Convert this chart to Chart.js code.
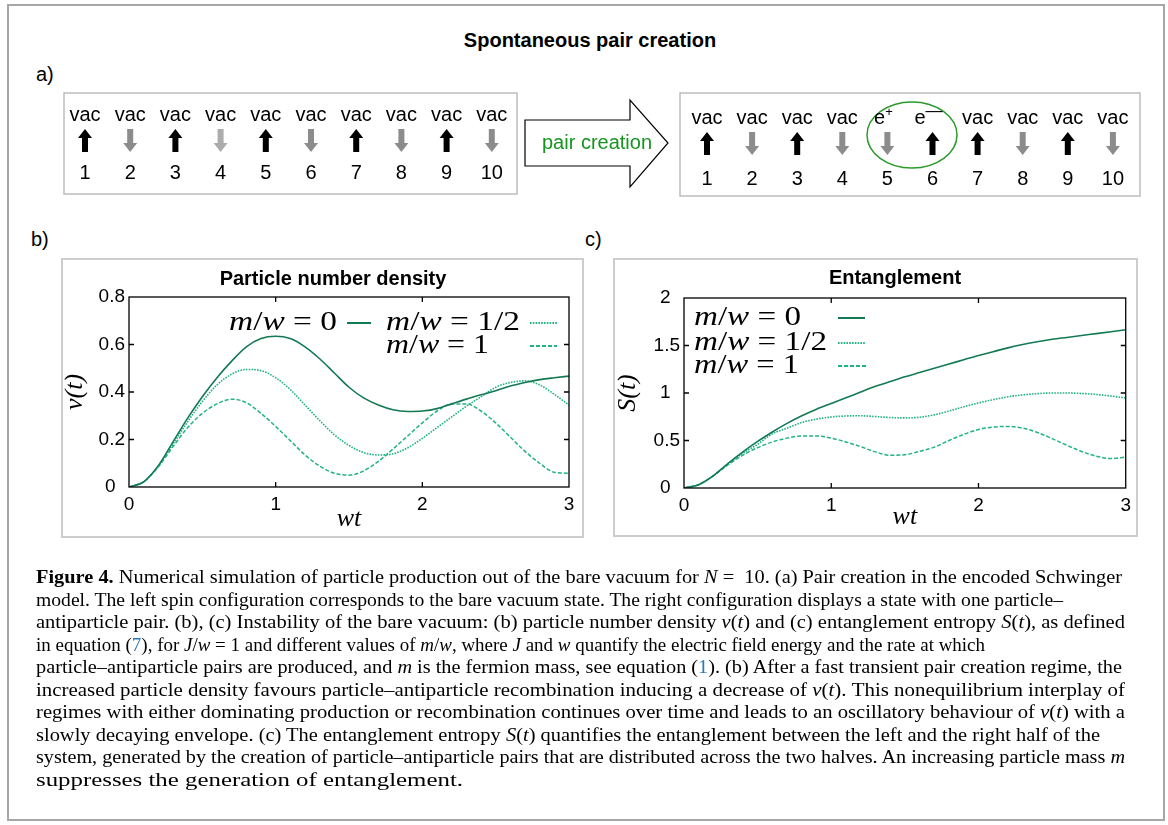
<!DOCTYPE html>
<html><head><meta charset="utf-8">
<script src="https://cdn.jsdelivr.net/npm/chart.js@4"></script>
<style>
html,body{margin:0;padding:0;background:#fff;}
body{width:1168px;height:825px;position:relative;overflow:hidden;font-family:'Liberation Sans',Arial,sans-serif;color:#000;}
.abs{position:absolute;white-space:nowrap;}
#frame{position:absolute;left:7px;top:4px;width:1158px;height:817px;box-sizing:border-box;border:2px solid #a6a6a6;}
.panel{position:absolute;box-sizing:border-box;border:2px solid #cdcdcd;}
.lbl{font-size:20px;line-height:20px;}
.ttl{font-weight:bold;font-size:20px;line-height:20px;transform:translateX(-50%);}
.lg{font-family:'Liberation Serif',serif;font-size:27px;line-height:27px;transform-origin:left center;}
.lg .eq{margin:0 0.25em;}
.cap{font-family:'Liberation Serif',serif;font-size:19px;line-height:19px;transform-origin:left center;}
.cap .bl{color:#2b79b5;}
canvas{position:absolute;}
svg{position:absolute;left:0;top:0;}
</style>
</head><body>
<div id="frame"></div>

<div class="abs ttl" style="left:590px;top:30px;">Spontaneous pair creation</div>
<div class="abs lbl" style="left:36px;top:64px;">a)</div>
<div class="abs lbl" style="left:31px;top:229px;">b)</div>
<div class="abs lbl" style="left:585px;top:229px;">c)</div>

<div class="panel" style="left:61px;top:258px;width:523px;height:280px;"></div>
<div class="panel" style="left:613px;top:258px;width:525px;height:279px;"></div>

<canvas id="chartB" width="521" height="278" style="left:62px;top:259px;width:521px;height:278px;"></canvas>
<canvas id="chartC" width="523" height="277" style="left:614px;top:259px;width:523px;height:277px;"></canvas>

<div class="abs ttl" style="left:333px;top:268px;">Particle number density</div>
<div class="abs ttl" style="left:895px;top:267px;">Entanglement</div>

<!-- legends -->
<div class="abs lg" data-w="108" style="left:229px;top:308px;"><i>m</i>/<i>w</i><span class="eq">=</span>0</div>
<div class="abs lg" data-w="134" style="left:386px;top:308px;"><i>m</i>/<i>w</i><span class="eq">=</span>1/2</div>
<div class="abs lg" data-w="103" style="left:386px;top:331px;"><i>m</i>/<i>w</i><span class="eq">=</span>1</div>
<div class="abs lg" data-w="107" style="left:694px;top:303px;"><i>m</i>/<i>w</i><span class="eq">=</span>0</div>
<div class="abs lg" data-w="133" style="left:694px;top:328px;"><i>m</i>/<i>w</i><span class="eq">=</span>1/2</div>
<div class="abs lg" data-w="105" style="left:694px;top:351px;"><i>m</i>/<i>w</i><span class="eq">=</span>1</div>

<svg id="ov" width="1168" height="825"></svg>

<div id="caption"></div>

<script>
// ---------------- data ----------------
const wt = [0,0.1,0.2,0.3,0.4,0.5,0.6,0.7,0.8,0.9,1.0,1.1,1.2,1.3,1.4,1.5,1.6,1.7,1.8,1.9,2.0,2.1,2.2,2.3,2.4,2.5,2.6,2.7,2.8,2.9,3.0];

// (b) particle number density nu(t)
const nuM0  = [0,0.022,0.09,0.19,0.29,0.38,0.46,0.53,0.59,0.625,0.635,0.625,0.59,0.54,0.48,0.42,0.375,0.345,0.325,0.318,0.32,0.33,0.35,0.37,0.388,0.405,0.425,0.44,0.452,0.46,0.467];
const nuM05 = [0,0.022,0.088,0.18,0.275,0.36,0.43,0.475,0.495,0.49,0.46,0.41,0.345,0.28,0.22,0.175,0.145,0.135,0.14,0.165,0.205,0.25,0.295,0.34,0.38,0.42,0.44,0.447,0.43,0.39,0.345];
const nuM1  = [0,0.022,0.085,0.17,0.25,0.31,0.35,0.37,0.355,0.31,0.255,0.195,0.135,0.088,0.058,0.05,0.068,0.108,0.16,0.215,0.27,0.32,0.35,0.35,0.32,0.27,0.21,0.15,0.1,0.062,0.058];

// (c) entanglement entropy S(t)
const sM0  = [0,0.035,0.13,0.26,0.38,0.49,0.59,0.68,0.76,0.83,0.89,0.95,1.01,1.07,1.12,1.17,1.215,1.26,1.305,1.35,1.395,1.435,1.475,1.51,1.54,1.565,1.585,1.605,1.625,1.645,1.665];
const sM05 = [0,0.035,0.13,0.255,0.365,0.46,0.57,0.63,0.69,0.725,0.748,0.758,0.76,0.752,0.742,0.738,0.745,0.77,0.81,0.855,0.895,0.93,0.96,0.98,0.993,1.0,1.0,0.995,0.985,0.968,0.948];
const sM1  = [0,0.035,0.13,0.245,0.345,0.425,0.485,0.525,0.548,0.548,0.525,0.485,0.435,0.38,0.345,0.35,0.385,0.43,0.5,0.565,0.615,0.642,0.648,0.63,0.585,0.52,0.45,0.385,0.335,0.31,0.325];

const xTickVals = [0,1,2,3];
const xTickLabels = ['0','1','2','3'];
const yTickValsB = [0,0.2,0.4,0.6,0.8];
const yTickLabelsB = ['0','0.2','0.4','0.6','0.8'];
const yTickValsC = [0,0.5,1,1.5,2];
const yTickLabelsC = ['0','0.5','1','1.5','2'];
const seriesNames = ['m/w = 0','m/w = 1/2','m/w = 1'];

// (a) spin configurations
const siteNumbers = ['1','2','3','4','5','6','7','8','9','10'];
const leftLabels  = ['vac','vac','vac','vac','vac','vac','vac','vac','vac','vac'];
const leftSpins   = ['up','down','up','down','up','down','up','down','up','down'];
const rightLabels = ['vac','vac','vac','vac','e+','e-','vac','vac','vac','vac'];
const rightSpins  = ['up','down','up','down','down','up','up','down','up','down'];

// ---------------- styles ----------------
const DARK = '#127a52', LIGHT = '#20b384';
const styles = [
  {color:DARK, width:1.6, dash:[]},
  {color:LIGHT, width:1.6, dash:[1.6,1.2]},
  {color:LIGHT, width:1.5, dash:[4,2]}
];

Chart.defaults.font.family = "'Liberation Sans', Arial, sans-serif";
Chart.defaults.color = '#000';

const frameTicks = {
  id:'frameTicks',
  afterDraw(chart){
    const {ctx, chartArea:{left,right,top,bottom}, scales:{x,y}} = chart;
    ctx.save();
    ctx.strokeStyle='#000'; ctx.lineWidth=1.3;
    ctx.strokeRect(left,top,right-left,bottom-top);
    const L=5;
    ctx.beginPath();
    x.ticks.forEach(t=>{const p=x.getPixelForValue(t.value); if(p<=left+1||p>=right-1) return;
      ctx.moveTo(p,bottom); ctx.lineTo(p,bottom-L); ctx.moveTo(p,top); ctx.lineTo(p,top+L);});
    y.ticks.forEach(t=>{const p=y.getPixelForValue(t.value); if(p<=top+1||p>=bottom-1) return;
      ctx.moveTo(left,p); ctx.lineTo(left+L,p); ctx.moveTo(right,p); ctx.lineTo(right-L,p);});
    ctx.stroke(); ctx.restore();
  }
};

function makeChart(id, series, cfg){
  return new Chart(document.getElementById(id), {
    type:'line',
    data:{datasets: series.map((vals,k)=>({
      label: seriesNames[k],
      data: wt.map((t,i)=>({x:t,y:vals[i]})),
      borderColor: styles[k].color, borderWidth: styles[k].width, borderDash: styles[k].dash,
      pointRadius:0, fill:false, cubicInterpolationMode:'monotone', borderCapStyle:'butt'
    }))},
    options:{
      responsive:false, animation:false, maintainAspectRatio:false,
      layout:{autoPadding:false, padding:cfg.pad},
      plugins:{legend:{display:false}, tooltip:{enabled:false}, title:{display:false}},
      scales:{
        x:{type:'linear', min:0, max:3,
          afterBuildTicks:s=>{s.ticks = xTickVals.map(v=>({value:v}));},
          afterFit:s=>{s.height = cfg.xh;},
          grid:{display:false, drawTicks:false}, border:{display:false},
          ticks:{padding:6, color:'#000', font:{size:19}, autoSkip:false, maxRotation:0,
            callback:(v,i)=>xTickLabels[i]},
          title:{display:true, text:'wt', color:'#000',
            font:{family:"'Liberation Serif', serif", style:'italic', size:26, lineHeight:1},
            padding:{top:0,bottom:cfg.xtpb}}},
        y:{type:'linear', min:cfg.ymin, max:cfg.ymax,
          afterBuildTicks:s=>{s.ticks = cfg.yvals.map(v=>({value:v}));},
          afterFit:s=>{s.width = cfg.yw;},
          grid:{display:false, drawTicks:false}, border:{display:false},
          ticks:{padding:4, color:'#000', font:{size:19}, autoSkip:false,
            callback:(v,i)=>{const l=cfg.ylabels[i]; return l.indexOf('.')<0 ? l+'\u2002' : l;}},
          title:{display:true, text:cfg.ytitle, color:'#000',
            font:{family:"'Liberation Serif', serif", style:'italic', size:26, lineHeight:1},
            padding:{top:cfg.ytpt,bottom:0}}}
      }
    },
    plugins:[frameTicks]
  });
}

makeChart('chartB', [nuM0,nuM05,nuM1], {
  pad:{left:0,right:14,top:38,bottom:0}, xh:50, yw:67, xtpb:5, ytpt:0,
  ymin:0, ymax:0.8, yvals:yTickValsB, ylabels:yTickLabelsB, ytitle:'\u03BD(t)'
});
makeChart('chartC', [sM0,sM05,sM1], {
  pad:{left:0,right:11,top:39,bottom:0}, xh:48, yw:70, xtpb:6, ytpt:1,
  ymin:0, ymax:2, yvals:yTickValsC, ylabels:yTickLabelsC, ytitle:'S(t)'
});

// ---------------- panel (a) and legend samples (SVG) ----------------
const NS='http://www.w3.org/2000/svg';
const ov=document.getElementById('ov');
function el(tag, attrs, text){const e=document.createElementNS(NS,tag); for(const k in attrs) e.setAttribute(k,attrs[k]); if(text!==undefined) e.textContent=text; ov.appendChild(e); return e;}

el('rect',{x:64,y:93,width:453,height:101,fill:'none',stroke:'#bdbdbd','stroke-width':1.5});
el('rect',{x:680,y:93,width:460,height:103,fill:'none',stroke:'#bdbdbd','stroke-width':1.5});
el('polygon',{points:'525,120 630,120 630,100 668,143 630,187 630,166 525,166',fill:'#fff',stroke:'#000','stroke-width':1.2});
el('text',{x:597,y:149,'text-anchor':'middle','font-family':'Liberation Sans, Arial','font-size':20,fill:'#16951f'},'pair creation');
el('ellipse',{cx:912,cy:135,rx:45,ry:33,fill:'none',stroke:'#2c9a2c','stroke-width':1.5});

function spin(cx, y0, y1, dir, color){
  const hw=7, sw=3, hh=9;
  let pts;
  if(dir==='up') pts=[[cx,y0],[cx+hw,y0+hh],[cx+sw,y0+hh],[cx+sw,y1],[cx-sw,y1],[cx-sw,y0+hh],[cx-hw,y0+hh]];
  else pts=[[cx,y1],[cx+hw,y1-hh],[cx+sw,y1-hh],[cx+sw,y0],[cx-sw,y0],[cx-sw,y1-hh],[cx-hw,y1-hh]];
  el('polygon',{points:pts.map(p=>p.join(',')).join(' '),fill:color});
}
function row(x0, step, labels, spins, yl, ya0, ya1, yn, faint){
  labels.forEach((lab,i)=>{
    const cx = x0 + i*step;
    if(lab==='e+' || lab==='e-'){
      const t = el('text',{x:cx-4,y:yl,'text-anchor':'middle','font-family':'Liberation Sans, Arial','font-size':20},'e');
      const ts=document.createElementNS(NS,'tspan');
      ts.setAttribute('dy',-8); ts.setAttribute('font-size', lab==='e+'?13:17);
      ts.textContent = lab==='e+' ? '+' : '\u2014';
      t.appendChild(ts);
    } else {
      el('text',{x:cx,y:yl,'text-anchor':'middle','font-family':'Liberation Sans, Arial','font-size':20},lab);
    }
    const col = spins[i]==='up' ? '#000' : (i===faint ? '#acacac' : '#8c8c8c');
    spin(cx, ya0, ya1, spins[i], col);
    el('text',{x:cx,y:yn,'text-anchor':'middle','font-family':'Liberation Sans, Arial','font-size':20},siteNumbers[i]);
  });
}
row(85, 45.2, leftLabels, leftSpins, 121, 129, 152, 179, 3);
row(707, 45.1, rightLabels, rightSpins, 124, 132, 155, 185, -1);

// legend samples
function sample(x0,x1,y,k){el('line',{x1:x0,y1:y,x2:x1,y2:y,stroke:styles[k].color,'stroke-width':styles[k].width+0.4,'stroke-dasharray':styles[k].dash.join(' ')||'none'});}
sample(347,371,323,0); sample(530,557,323,1); sample(530,557,346,2);
sample(838,865,318,0); sample(838,866,343,1); sample(838,866,366,2);

// ---------------- caption ----------------
const capLines = [
 '<b>Figure 4.</b> Numerical simulation of particle production out of the bare vacuum for <i>N</i> = &nbsp;10. (a) Pair creation in the encoded Schwinger',
 'model. The left spin configuration corresponds to the bare vacuum state. The right configuration displays a state with one particle\u2013',
 'antiparticle pair. (b), (c) Instability of the bare vacuum: (b) particle number density <i>\u03BD</i>(<i>t</i>) and (c) entanglement entropy <i>S</i>(<i>t</i>), as defined',
 'in equation (<span class="bl">7</span>), for <i>J</i>/<i>w</i> = 1 and different values of <i>m</i>/<i>w</i>, where <i>J</i> and <i>w</i> quantify the electric field energy and the rate at which',
 'particle\u2013antiparticle pairs are produced, and <i>m</i> is the fermion mass, see equation (<span class="bl">1</span>). (b) After a fast transient pair creation regime, the',
 'increased particle density favours particle\u2013antiparticle recombination inducing a decrease of <i>\u03BD</i>(<i>t</i>). This nonequilibrium interplay of',
 'regimes with either dominating production or recombination continues over time and leads to an oscillatory behaviour of <i>\u03BD</i>(<i>t</i>) with a',
 'slowly decaying envelope. (c) The entanglement entropy <i>S</i>(<i>t</i>) quantifies the entanglement between the left and the right half of the',
 'system, generated by the creation of particle\u2013antiparticle pairs that are distributed across the two halves. An increasing particle mass <i>m</i>',
 'suppresses the generation of entanglement.'
];
const capRight = [1122,1063,1125,985,1122,1125,1125,1100,1125,463];
const cap = document.getElementById('caption');
capLines.forEach((h,i)=>{
  const d=document.createElement('div');
  d.className='abs cap';
  d.style.left='36px';
  d.style.top=(567 + i*22.5)+'px';
  d.dataset.w = capRight[i]-36;
  d.innerHTML=h;
  cap.appendChild(d);
});

// fit text widths
document.querySelectorAll('[data-w]').forEach(e=>{
  const w=e.getBoundingClientRect().width;
  if(w>0) e.style.transform='scaleX('+((+e.dataset.w)/w)+')';
});
</script>
</body></html>
